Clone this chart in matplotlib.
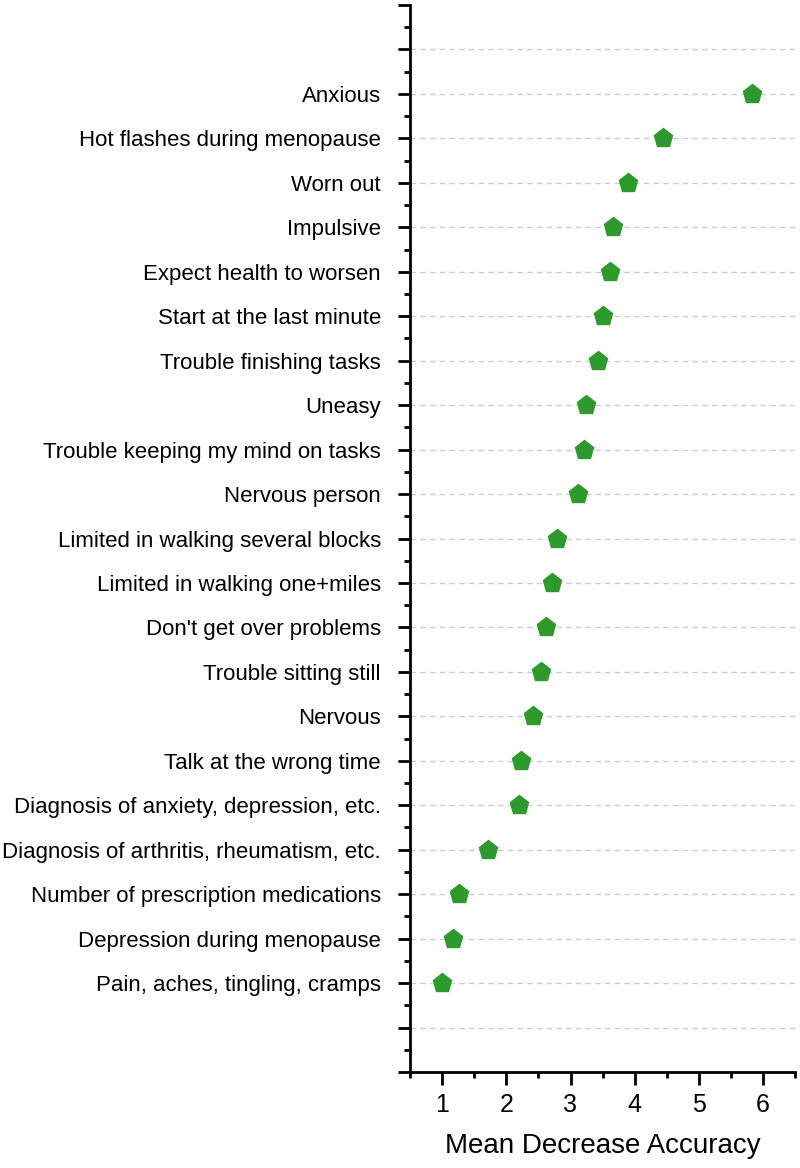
import numpy as np
import matplotlib.pyplot as plt
from matplotlib.ticker import MultipleLocator

plt.rcParams['font.family'] = ['Liberation Sans', 'DejaVu Sans']

# data, bottom to top
labels = [
    'Pain, aches, tingling, cramps',
    'Depression during menopause',
    'Number of prescription medications',
    'Diagnosis of arthritis, rheumatism, etc.',
    'Diagnosis of anxiety, depression, etc.',
    'Talk at the wrong time',
    'Nervous',
    'Trouble sitting still',
    "Don't get over problems",
    'Limited in walking one+miles',
    'Limited in walking several blocks',
    'Nervous person',
    'Trouble keeping my mind on tasks',
    'Uneasy',
    'Trouble finishing tasks',
    'Start at the last minute',
    'Expect health to worsen',
    'Impulsive',
    'Worn out',
    'Hot flashes during menopause',
    'Anxious',
]
values = [1.00, 1.17, 1.26, 1.72, 2.20, 2.23, 2.42, 2.54, 2.62, 2.71, 2.79,
          3.12, 3.21, 3.24, 3.43, 3.50, 3.61, 3.66, 3.89, 4.44, 5.82]
x_ticks = [1, 2, 3, 4, 5, 6]

pos = np.arange(1, len(labels) + 1)

fig = plt.figure(figsize=(8, 11.68), dpi=100)
ax = fig.add_axes([0.5125, 0.0822, 0.4815, 0.9135])

# dashed grid lines at every integer position
for yy in range(0, len(labels) + 2):
    ax.axhline(yy, color='#cccccc', lw=1, ls=(0, (4, 3)), zorder=0)

ax.plot(values, pos, 'p', color='#2e9a2e', markersize=14, zorder=3)

ax.set_xlim(0.5, 6.5)
ax.set_ylim(-1, len(labels) + 2)
ax.set_xticks(x_ticks)
ax.xaxis.set_minor_locator(MultipleLocator(0.5))
ax.set_yticks(np.arange(-1, len(labels) + 3))
ax.set_yticklabels([labels[i - 1] if 1 <= i <= len(labels) else ''
                    for i in range(-1, len(labels) + 3)])
ax.yaxis.set_minor_locator(MultipleLocator(0.5))

for s in ['top', 'right']:
    ax.spines[s].set_visible(False)
for s in ['left', 'bottom']:
    ax.spines[s].set_linewidth(2)

ax.tick_params(axis='both', which='major', length=9, width=2, color='black')
ax.tick_params(axis='both', which='minor', length=4.5, width=2, color='black')
ax.tick_params(axis='y', labelsize=16, pad=12)
ax.tick_params(axis='x', labelsize=18, pad=6)
ax.set_xlabel('Mean Decrease Accuracy', fontsize=20, labelpad=12)

fig.savefig('out.png', dpi=100)
